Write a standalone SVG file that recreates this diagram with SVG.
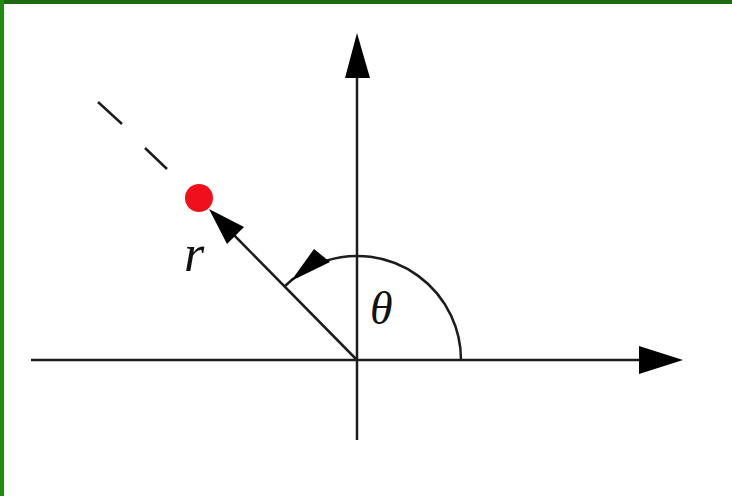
<svg xmlns="http://www.w3.org/2000/svg" width="732" height="496" viewBox="0 0 732 496">
<style>
.ln{stroke:#1c1c1c;stroke-width:2.5;fill:none}
.head{fill:#000;stroke:none}
.lbl{font-family:"Liberation Serif","Times New Roman",serif;font-style:italic;fill:#111}
</style>
<rect width="732" height="496" fill="#ffffff"/>
<rect x="0" y="0" width="732" height="4" fill="#1d6b10"/>
<rect x="0" y="0" width="4" height="496" fill="#1f8c10"/>
<g id="connectors">
  <line class="ln" x1="31" y1="360" x2="642" y2="360"/>
  <polygon class="head" points="683,360 639,346 639,374"/>
  <line class="ln" x1="357" y1="440" x2="357" y2="76"/>
  <polygon class="head" points="357,33 345,78 370,78"/>
  <line class="ln" x1="357" y1="360" x2="230" y2="231"/>
  <polygon class="head" points="209,209 244,227 227,244"/>
  <line class="ln" x1="98" y1="102" x2="122" y2="124"/>
  <line class="ln" x1="145" y1="148" x2="167" y2="169"/>
  <path class="ln" d="M461,360 A104,104 0 0 0 325,261"/>
  <line class="ln" x1="294" y1="278" x2="285" y2="286"/>
  <polygon class="head" points="291,281 314,249 330,262"/>
</g>
<g id="point">
  <circle cx="199" cy="198" r="14" fill="#f0101c"/>
</g>
<g id="labels">
  <text class="lbl" x="370" y="324" font-size="46">θ</text>
  <text class="lbl" x="184" y="271" font-size="52">r</text>
</g>
</svg>
